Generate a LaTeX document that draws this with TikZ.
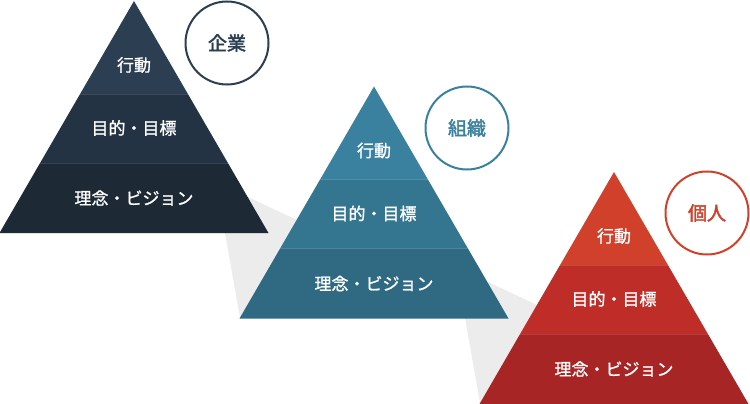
\documentclass[tikz,border=0pt]{standalone}
\usepackage{fontspec}
\setmainfont{Noto Sans CJK JP}
\newfontfamily\medjp[FakeBold=1.2]{Noto Sans CJK JP}
\newfontfamily\badgejp[FakeBold=2.2]{Noto Sans CJK JP}
\definecolor{dkA}{HTML}{2B3E52}
\definecolor{dkB}{HTML}{233343}
\definecolor{dkC}{HTML}{1D2935}
\definecolor{tlA}{HTML}{3A809F}
\definecolor{tlB}{HTML}{34758F}
\definecolor{tlC}{HTML}{2F6A82}
\definecolor{rdA}{HTML}{D1402A}
\definecolor{rdB}{HTML}{BF2D29}
\definecolor{rdC}{HTML}{A82526}
\definecolor{shade}{HTML}{ECECEC}
\tikzset{
  lbl/.style={text=white, font=\medjp\fontsize{17}{19}\selectfont, inner sep=0pt},
  badge/.style={circle, draw=#1, line width=2pt, minimum size=83pt, inner sep=0pt, fill=white,
    text=#1, font=\badgejp\fontsize{19}{21}\selectfont},
  bandline/.style={draw=white, draw opacity=0.12, line width=0.8pt},
  shadowfill/.style={fill=shade}
}
% #1 apex x, #2 apex y, #3-#5 colours, #6 name prefix
\newcommand\drawpyramid[6]{%
  \begin{scope}[shift={(#1,#2)}]
    \begin{scope}
      \clip (0,0) -- (134.5,232) -- (-134.5,232) -- cycle;
      \fill[#3] (-136,-1) rectangle (136,93);
      \fill[#4] (-136,93) rectangle (136,162);
      \fill[#5] (-136,162) rectangle (136,233);
      \draw[bandline] (-136,93) -- (136,93);
      \draw[bandline] (-136,162) -- (136,162);
    \end{scope}
    \node[lbl] (#6-act) at (0,64) {行動};
    \node[lbl] (#6-goal) at (0,127) {目的・目標};
    \node[lbl] (#6-vis) at (0,197) {理念・ビジョン};
  \end{scope}}
\begin{document}
\begin{tikzpicture}[x=1pt,y=-1pt]
\useasboundingbox (0,0) rectangle (750,404);
% shadows
\fill[shadowfill] (248,197) -- (297,220) -- (240,318) -- (225,233) -- cycle;
\fill[shadowfill] (488,282) -- (537,305) -- (480,403) -- (465,318) -- cycle;
% pyramids
\drawpyramid{134}{1}{dkA}{dkB}{dkC}{p1}
\drawpyramid{374}{86.5}{tlA}{tlB}{tlC}{p2}
\drawpyramid{614}{172}{rdA}{rdB}{rdC}{p3}
% badges
\node[badge=dkA] (c1) at (227,43) {企業};
\node[badge=tlA] (c2) at (467,128) {組織};
\node[badge=rdA] (c3) at (707,213) {個人};
\end{tikzpicture}
\end{document}
